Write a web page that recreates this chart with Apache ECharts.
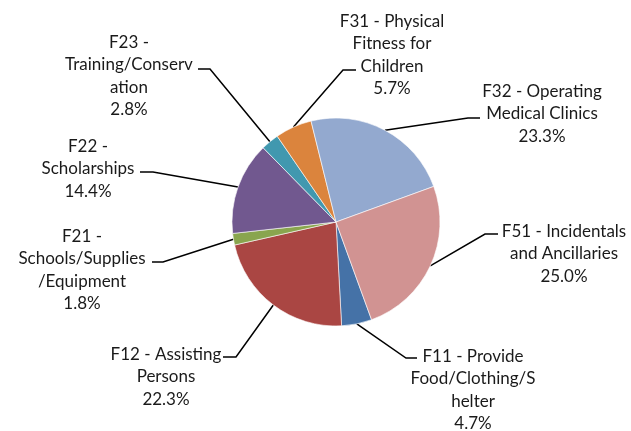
<!DOCTYPE html>
<html lang="en">
<head>
<meta charset="UTF-8">
<title>Spending by category</title>
<script src="https://cdn.jsdelivr.net/npm/echarts@6/dist/echarts.min.js"></script>
<style>
  html, body { margin: 0; padding: 0; background: #fff; }
  #main { width: 631px; height: 431px; }
</style>
</head>
<body>
<div id="main"></div>
<script type="text/javascript">
    // slices, in the order they run clockwise
    var categories = [
        'F11 - Provide\nFood/Clothing/S\nhelter',
        'F12 - Assisting\nPersons',
        'F21 -\nSchools/Supplies\n/Equipment',
        'F22 -\nScholarships',
        'F23 -\nTraining/Conserv\nation',
        'F31 - Physical\nFitness for\nChildren',
        'F32 - Operating\nMedical Clinics',
        'F51 - Incidentals\nand Ancillaries'
    ];
    var shares = [4.7, 22.3, 1.8, 14.4, 2.8, 5.7, 23.3, 25.0];

    var colors = ['#4572A7', '#AA4643', '#89A54E', '#71588F', '#4198AF', '#DB843D', '#93A9CF', '#D19392'];

    // where each label block sits and where its leader line meets it
    var labelSpots = [
        { x: 473, y: 390, end: [417, 358], elbow: -11 },
        { x: 166, y: 377, end: [223, 357], elbow: 13 },
        { x: 82,  y: 270, end: [152, 262], elbow: 11 },
        { x: 88,  y: 169, end: [140, 172], elbow: 13 },
        { x: 129, y: 76,  end: [198, 69],  elbow: 12 },
        { x: 392, y: 55,  end: [356, 70],  elbow: -13 },
        { x: 542, y: 114, end: [480, 118], elbow: -12 },
        { x: 564, y: 254, end: [498, 234], elbow: -13 }
    ];

    var chartDom = document.getElementById('main');
    var myChart = echarts.init(chartDom, null, { renderer: 'canvas' });

    var pieData = categories.map(function (name, i) {
        return { name: name, value: shares[i], itemStyle: { color: colors[i] } };
    });

    var option = {
        animation: false,
        backgroundColor: '#ffffff',
        series: [
            {
                type: 'pie',
                center: [336, 222],
                radius: 104,
                startAngle: -70,
                clockwise: true,
                avoidLabelOverlap: false,
                minShowLabelAngle: 0,
                data: pieData,
                itemStyle: {
                    borderColor: '#ffffff',
                    borderWidth: 0.6
                },
                label: {
                    show: true,
                    position: 'outside',
                    fontFamily: 'Lato',
                    fontSize: 17,
                    lineHeight: 22.5,
                    color: '#1a1a1a',
                    formatter: function (p) {
                        return p.name + '\n' + p.value.toFixed(1) + '%';
                    }
                },
                labelLine: {
                    show: true,
                    length: 10,
                    length2: 10,
                    lineStyle: { color: '#000000', width: 1.5 }
                },
                labelLayout: function (p) {
                    var s = labelSpots[p.dataIndex];
                    var out = {
                        x: s.x,
                        y: s.y,
                        align: 'center',
                        verticalAlign: 'middle',
                        hideOverlap: false
                    };
                    if (p.labelLinePoints) {
                        out.labelLinePoints = [
                            p.labelLinePoints[0],
                            [s.end[0] + s.elbow, s.end[1]],
                            s.end
                        ];
                    }
                    return out;
                },
                emphasis: { disabled: true }
            }
        ]
    };

    myChart.setOption(option);
</script>
</body>
</html>
